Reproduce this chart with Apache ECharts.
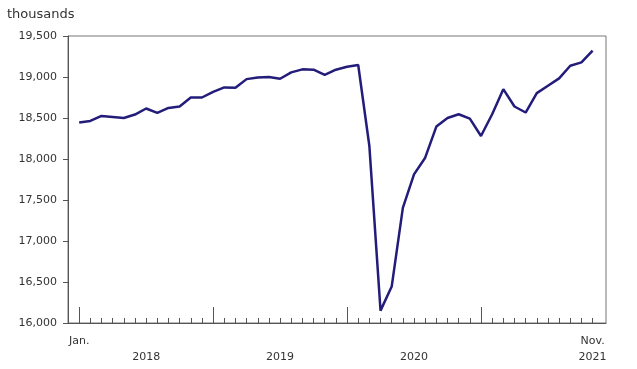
<!DOCTYPE html>
<html>
<head>
<meta charset="utf-8">
<script src="https://cdn.jsdelivr.net/npm/echarts@6/dist/echarts.min.js"></script>
<style>
html,body{margin:0;padding:0;background:#fff;}
#chart{width:637px;height:369px;}
</style>
</head>
<body>
<div id="chart"></div>
<script>
// Monthly, Jan 2018 .. Nov 2021 (index 0..46)
const months = [
  "2018-01","2018-02","2018-03","2018-04","2018-05","2018-06","2018-07","2018-08","2018-09","2018-10","2018-11","2018-12",
  "2019-01","2019-02","2019-03","2019-04","2019-05","2019-06","2019-07","2019-08","2019-09","2019-10","2019-11","2019-12",
  "2020-01","2020-02","2020-03","2020-04","2020-05","2020-06","2020-07","2020-08","2020-09","2020-10","2020-11","2020-12",
  "2021-01","2021-02","2021-03","2021-04","2021-05","2021-06","2021-07","2021-08","2021-09","2021-10","2021-11"
];
const values = [
  18444,18464,18525,18513,18500,18542,18616,18562,18623,18640,18750,18750,
  18819,18873,18869,18974,18995,18999,18979,19056,19093,19089,19027,19089,
  19125,19146,18158,16151,16444,17404,17812,18016,18395,18500,18546,18493,
  18281,18546,18852,18640,18567,18803,18893,18983,19137,19178,19321
];
const xLabelPos = [0, 6, 18, 30, 46];
const xLabelText = ["Jan.", "\n2018", "\n2019", "\n2020", "Nov.\n2021"];
const majorTicks = [0, 12, 24, 36];
const yTitle = "thousands";

const minorTicks = months.map((m, i) => i);
const seriesData = values.map((v, i) => [i, v]);

const font = "DejaVu Sans, Verdana, sans-serif";
const textColor = "#333";
const chart = echarts.init(document.getElementById('chart'), null, {renderer: 'canvas'});
chart.setOption({
  animation: false,
  backgroundColor: '#fff',
  title: {
    text: yTitle, left: 2, top: 3,
    textStyle: {fontFamily: font, fontSize: 13, fontWeight: 'normal', color: textColor}
  },
  grid: {left: 68, right: 31, top: 36, bottom: 46, show: true, borderColor: '#777', borderWidth: 1},
  xAxis: [{
    type: 'value', min: -1, max: 47.2, position: 'bottom',
    axisLine: {show: true, onZero: false, lineStyle: {color: '#555', width: 1}},
    splitLine: {show: false},
    axisTick: {show: true, inside: true, length: 5, customValues: minorTicks, lineStyle: {color: '#555'}},
    axisLabel: {
      show: true, customValues: xLabelPos, margin: 10,
      fontFamily: font, fontSize: 11, color: textColor, lineHeight: 16,
      formatter: function (v) { const k = xLabelPos.indexOf(v); return k >= 0 ? xLabelText[k] : ''; }
    }
  }, {
    type: 'value', min: -1, max: 47.2, position: 'bottom', gridIndex: 0,
    axisLine: {show: false, onZero: false},
    splitLine: {show: false},
    axisTick: {show: true, inside: true, length: 16, customValues: majorTicks, lineStyle: {color: '#555'}},
    axisLabel: {show: false}
  }],
  yAxis: {
    type: 'value', min: 16000, max: 19500, interval: 500, position: 'left',
    axisLine: {show: true, onZero: false, lineStyle: {color: '#555'}},
    axisTick: {show: true, inside: false, length: 5, lineStyle: {color: '#555'}},
    splitLine: {show: false},
    axisLabel: {
      margin: 11, fontFamily: font, fontSize: 11, color: textColor,
      formatter: v => v.toLocaleString('en-US')
    }
  },
  series: [{
    type: 'line', xAxisIndex: 0, data: seriesData, showSymbol: false,
    lineStyle: {color: '#231c7a', width: 2.5}, itemStyle: {color: '#231c7a'}
  }]
});
</script>
</body>
</html>
